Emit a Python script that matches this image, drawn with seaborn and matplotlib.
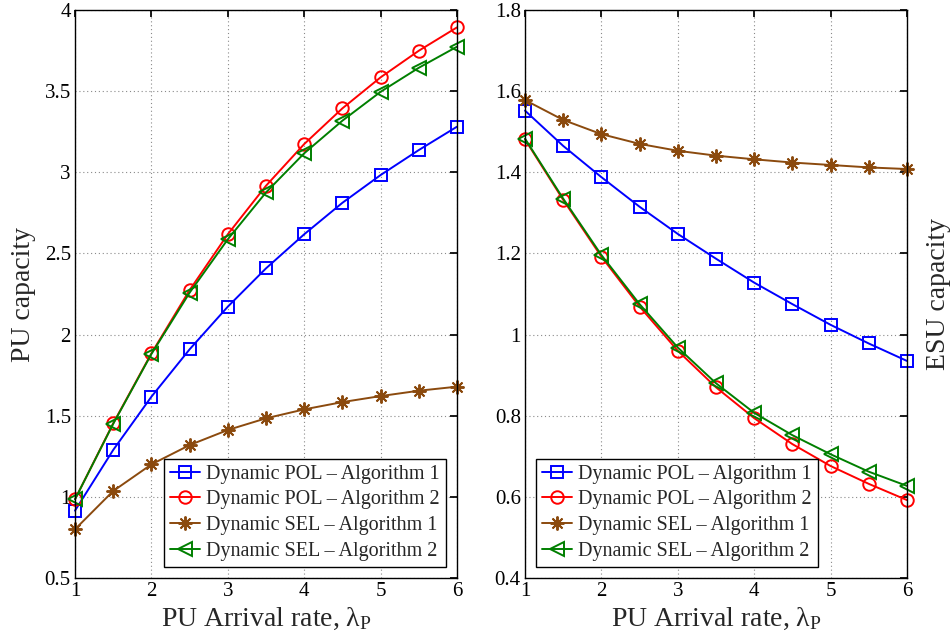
import numpy as np
import pandas as pd
import matplotlib
matplotlib.use("Agg")
import matplotlib.pyplot as plt
import seaborn as sns

# ---------------- data ----------------
arrival_rate = [1, 1.5, 2, 2.5, 3, 3.5, 4, 4.5, 5, 5.5, 6]

series_names = ["Dynamic POL – Algorithm 1", "Dynamic POL – Algorithm 2",
                "Dynamic SEL – Algorithm 1", "Dynamic SEL – Algorithm 2"]

pu_pol_alg1 = [0.915, 1.289, 1.617, 1.909, 2.172, 2.408, 2.618, 2.812, 2.983, 3.137, 3.281]
pu_pol_alg2 = [0.985, 1.453, 1.884, 2.274, 2.618, 2.917, 3.174, 3.394, 3.585, 3.749, 3.893]
pu_sel_alg1 = [0.800, 1.036, 1.200, 1.319, 1.412, 1.484, 1.539, 1.584, 1.621, 1.654, 1.679]
pu_sel_alg2 = [0.985, 1.450, 1.880, 2.258, 2.587, 2.876, 3.117, 3.318, 3.496, 3.644, 3.774]

esu_pol_alg1 = [1.552, 1.465, 1.388, 1.315, 1.248, 1.187, 1.128, 1.075, 1.024, 0.978, 0.935]
esu_pol_alg2 = [1.481, 1.332, 1.192, 1.069, 0.960, 0.870, 0.794, 0.730, 0.676, 0.632, 0.592]
esu_sel_alg1 = [1.578, 1.529, 1.494, 1.470, 1.453, 1.441, 1.432, 1.424, 1.418, 1.412, 1.408]
esu_sel_alg2 = [1.483, 1.335, 1.196, 1.075, 0.968, 0.880, 0.807, 0.752, 0.705, 0.662, 0.627]

x_ticks = [1, 2, 3, 4, 5, 6]
pu_yticks = [0.5, 1, 1.5, 2, 2.5, 3, 3.5, 4]
pu_ytick_labels = ["0.5", "1", "1.5", "2", "2.5", "3", "3.5", "4"]
esu_yticks = [0.4, 0.6, 0.8, 1.0, 1.2, 1.4, 1.6, 1.8]
esu_ytick_labels = ["0.4", "0.6", "0.8", "1", "1.2", "1.4", "1.6", "1.8"]

# ---------------- style ----------------
sns.set_theme(style="white")
plt.rcParams["font.family"] = ["Liberation Serif", "DejaVu Serif"]
plt.rcParams["mathtext.fontset"] = "custom"
plt.rcParams["mathtext.rm"] = "Liberation Serif"
plt.rcParams["mathtext.it"] = "Liberation Serif:italic"

colors = ["#0000ff", "#ff0000", "#8b4a0e", "#007f00"]
markers = ["s", "o", (8, 2, 0), "<"]
msizes = [8, 9, 10, 9.5]

fig = plt.figure(figsize=(9.52, 6.42), dpi=100)
ax1 = fig.add_axes([75 / 952, 64 / 642, 382 / 952, 568 / 642])
ax2 = fig.add_axes([525 / 952, 64 / 642, 382 / 952, 568 / 642])


def draw(ax, ys_list):
    for name, ys, c, m, ms in zip(series_names, ys_list, colors, markers, msizes):
        df = pd.DataFrame({"x": arrival_rate, "y": ys})
        sns.lineplot(data=df, x="x", y="y", ax=ax, color=c, marker=m,
                     markersize=ms, markerfacecolor="none", markeredgecolor=c,
                     markeredgewidth=1.4, linewidth=1.4, label=name,
                     clip_on=False, zorder=3)


draw(ax1, [pu_pol_alg1, pu_pol_alg2, pu_sel_alg1, pu_sel_alg2])
draw(ax2, [esu_pol_alg1, esu_pol_alg2, esu_sel_alg1, esu_sel_alg2])

for ax, loc in ((ax1, "lower right"), (ax2, "lower left")):
    ax.set_xlim(1, 6)
    ax.set_xticks(x_ticks)
    ax.set_xticklabels([str(t) for t in x_ticks])
    ax.grid(True, linestyle=(0, (1, 2.5)), color="#8a8a8a", linewidth=0.8)
    ax.set_axisbelow(True)
    ax.tick_params(direction="in", top=True, right=True, length=5,
                   labelsize=15, colors="black", pad=3)
    for sp in ax.spines.values():
        sp.set_color("black")
        sp.set_linewidth(1.0)
        sp.set_zorder(4)
    ax.set_xlabel(r"PU Arrival rate, $\mathrm{\lambda_P}$", fontsize=20, labelpad=3)
    leg = ax.legend(loc=loc, fontsize=14.5, frameon=True, fancybox=False,
                    framealpha=1, edgecolor="black", borderpad=0.3,
                    labelspacing=0.33, handlelength=1.5, handletextpad=0.3,
                    borderaxespad=0.55)
    leg.get_frame().set_linewidth(1.0)
    leg.set_zorder(5)

ax1.set_ylim(0.5, 4)
ax1.set_yticks(pu_yticks)
ax1.set_yticklabels(pu_ytick_labels)
ax1.set_ylabel("PU capacity", fontsize=20, labelpad=6)

ax2.set_ylim(0.4, 1.8)
ax2.set_yticks(esu_yticks)
ax2.set_yticklabels(esu_ytick_labels)
ax2.yaxis.set_label_position("right")
ax2.set_ylabel("ESU capacity", fontsize=20, labelpad=14)

fig.savefig("out.png", dpi=100, facecolor="white")
